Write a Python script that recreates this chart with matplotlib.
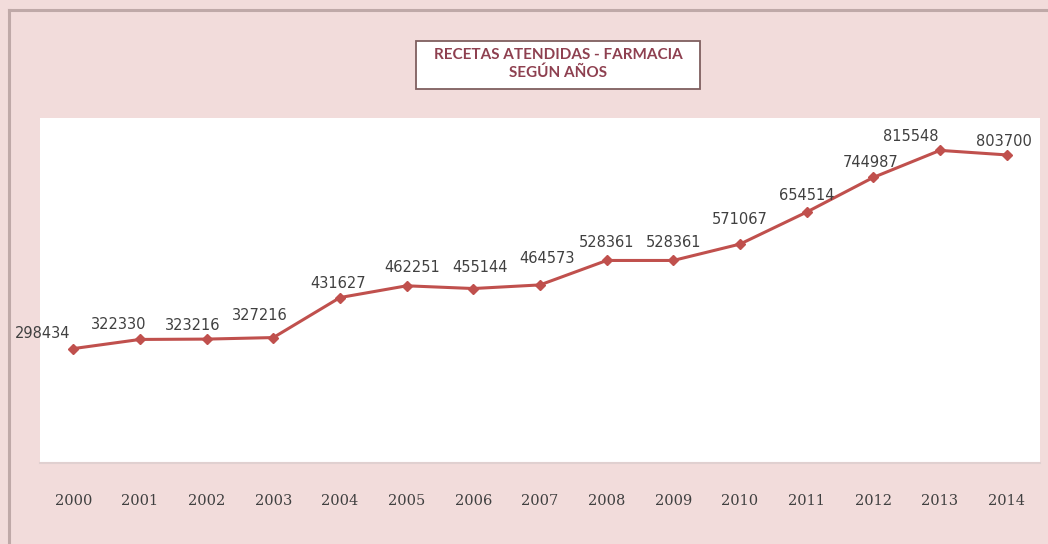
import matplotlib
matplotlib.use("Agg")
import matplotlib.pyplot as plt
from matplotlib.lines import Line2D
from matplotlib.patches import Rectangle

years = ["2000", "2001", "2002", "2003", "2004", "2005", "2006", "2007",
         "2008", "2009", "2010", "2011", "2012", "2013", "2014"]
recetas = [298434, 322330, 323216, 327216, 431627, 462251, 455144, 464573,
           528361, 528361, 571067, 654514, 744987, 815548, 803700]
title_lines = ["RECETAS ATENDIDAS - FARMACIA", "SEGÚN AÑOS"]

# label offsets in points (styling only)
label_dx = [-22, -15, -10, -10, -1, 4, 5, 5, 0, 0, 0, 0, -2, -21, -2]
label_dy = [11, 11, 10, 16, 10, 13, 15, 19, 13, 13, 18, 12, 11, 10, 10]

W, H = 1048, 544
fig = plt.figure(figsize=(W / 100, H / 100), dpi=100)
fig.patch.set_facecolor("#F2DCDB")

# outer chart border (left and top visible)
fig.add_artist(Line2D([8.5 / W, 8.5 / W], [0, (H - 10) / H],
                      transform=fig.transFigure, color="#BFA9A8", linewidth=2.2))
fig.add_artist(Line2D([8.5 / W, 1], [(H - 10) / H, (H - 10) / H],
                      transform=fig.transFigure, color="#BFA9A8", linewidth=2.2))

ax = fig.add_axes([40 / W, (H - 463) / H, 1000 / W, 345 / H])
ax.set_facecolor("white")
x = list(range(len(years)))
ax.plot(x, recetas, color="#C0504D", linewidth=2.2, marker="D",
        markersize=5.5, markerfacecolor="#C0504D", markeredgecolor="#C0504D")
ax.set_xlim(-0.5, len(years) - 0.5)
ax.set_ylim(0, 900000)
ax.set_yticks([])
ax.set_xticks(x)
ax.set_xticklabels(years, fontsize=10.5, color="#404040", family="DejaVu Serif")
ax.tick_params(axis="x", length=0, pad=22)
for s in ["top", "left", "right"]:
    ax.spines[s].set_visible(False)
ax.spines["bottom"].set_color("#E0D0D0")
ax.spines["bottom"].set_linewidth(1.5)

for i, v in enumerate(recetas):
    ax.annotate(str(v), (i, v), xytext=(label_dx[i], label_dy[i]),
                textcoords="offset points", ha="center", va="center",
                fontsize=10.5, color="#404040", family="DejaVu Sans")

# title box
fig.add_artist(Rectangle((416 / W, (H - 89) / H), (700 - 416) / W, 48 / H,
                         transform=fig.transFigure, facecolor="white",
                         edgecolor="#7F5F5F", linewidth=1.3))
fig.text(558 / W, (H - 55) / H, title_lines[0], ha="center", va="center",
         fontsize=11, fontweight="bold", color="#8E4050", family="Lato")
fig.text(558 / W, (H - 73) / H, title_lines[1], ha="center", va="center",
         fontsize=11, fontweight="bold", color="#8E4050", family="Lato")

fig.savefig("out.png", dpi=100, facecolor=fig.get_facecolor())
